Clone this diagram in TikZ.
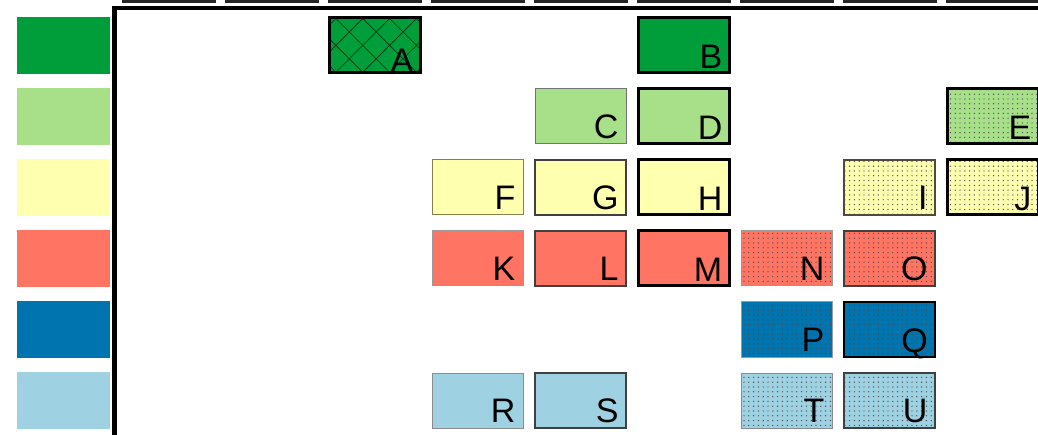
\documentclass[tikz,border=0pt]{standalone}
\usepackage{fontspec}
\setmainfont{Liberation Sans}
\usepackage{xcolor}
\usetikzlibrary{patterns.meta}
\definecolor{gDark}{HTML}{009E3A}
\definecolor{gLight}{HTML}{A8E08A}
\definecolor{yLight}{HTML}{FFFFB0}
\definecolor{salmon}{HTML}{FF7462}
\definecolor{bDark}{HTML}{0074AF}
\definecolor{bLight}{HTML}{9ED1E1}
\tikzset{
  cell/.style     ={rectangle,minimum width=91pt,minimum height=55pt,inner sep=0pt},
  key/.style      ={cell,minimum width=93pt,minimum height=57pt},
  c1/.style       ={preaction={fill=gDark}},
  c2/.style       ={preaction={fill=gLight}},
  c3/.style       ={preaction={fill=yLight}},
  c4/.style       ={preaction={fill=salmon}},
  c5/.style       ={preaction={fill=bDark}},
  c6/.style       ={preaction={fill=bLight}},
  lightedge/.style={draw=black!40,line width=1pt},
  midedge/.style  ={draw=black!75,line width=1.3pt},
  boldedge/.style ={draw=black,line width=3pt},
  topedge/.style  ={draw=black!85,line width=3pt,fill=white},
  dotty/.style    ={pattern={Dots[distance=4.8pt,radius=0.7pt]},pattern color=black!70},
  xhatch/.style   ={pattern={Hatch[angle=45,distance=19pt,line width=0.8pt]},pattern color=gDark!40!black},
  lbl/.style      ={font=\fontsize{34}{34}\selectfont,inner sep=0pt,anchor=base east,xshift=-8pt,yshift=6pt},
}
\begin{document}
\begin{tikzpicture}[x=1pt,y=-1pt]
  \useasboundingbox (0,0) rectangle (1038,435);
  \foreach \i in {0,...,8}{\node[cell,topedge](top\i) at (168.5+103*\i,-25.5){};}
  \node[key,c1](k1) at (63.5,45.5){};   \node[key,c2](k2) at (63.5,116.5){};
  \node[key,c3](k3) at (63.5,187.5){};  \node[key,c4](k4) at (63.5,258.5){};
  \node[key,c5](k5) at (63.5,329.5){};  \node[key,c6](k6) at (63.5,400.5){};
  \draw[line width=4.5pt](114.5,445)|-(1045,8);
  \node[cell,c1,xhatch,boldedge,label={[lbl,yshift=-4pt]south east:A}](A) at (374.5,45.5){};
  \node[cell,c1,boldedge,label={[lbl]south east:B}](B) at (683.5,45.5){};
  \node[cell,c2,lightedge,draw=black!55,label={[lbl]south east:C}](C) at (580.5,116.5){};
  \node[cell,c2,boldedge,label={[lbl]south east:D}](D) at (683.5,116.5){};
  \node[cell,c2,dotty,boldedge,label={[lbl]south east:E}](E) at (992.5,116.5){};
  \node[cell,c3,lightedge,draw=black!35!yellow!70!black,label={[lbl]south east:F}](F) at (477.5,187.5){};
  \node[cell,c3,midedge,label={[lbl]south east:G}](G) at (580.5,187.5){};
  \node[cell,c3,boldedge,label={[lbl]south east:H}](H) at (683.5,187.5){};
  \node[cell,c3,dotty,midedge,draw=black!60!yellow!50!black,label={[lbl]south east:I}](I) at (889.5,187.5){};
  \node[cell,c3,dotty,boldedge,label={[lbl]south east:J}](J) at (992.5,187.5){};
  \node[cell,c4,lightedge,label={[lbl]south east:K}](K) at (477.5,258.5){};
  \node[cell,c4,midedge,label={[lbl]south east:L}](L) at (580.5,258.5){};
  \node[cell,c4,boldedge,label={[lbl]south east:M}](M) at (683.5,258.5){};
  \node[cell,c4,dotty,lightedge,label={[lbl]south east:N}](N) at (786.5,258.5){};
  \node[cell,c4,dotty,midedge,label={[lbl]south east:O}](O) at (889.5,258.5){};
  \node[cell,c5,dotty,lightedge,label={[lbl]south east:P}](P) at (786.5,329.5){};
  \node[cell,c5,dotty,boldedge,line width=2.2pt,label={[lbl]south east:Q}](Q) at (889.5,329.5){};
  \node[cell,c6,lightedge,draw=black!45,label={[lbl]south east:R}](R) at (477.5,400.5){};
  \node[cell,c6,midedge,label={[lbl]south east:S}](S) at (580.5,400.5){};
  \node[cell,c6,dotty,lightedge,draw=black!45,label={[lbl]south east:T}](T) at (786.5,400.5){};
  \node[cell,c6,dotty,midedge,label={[lbl]south east:U}](U) at (889.5,400.5){};
\end{tikzpicture}
\end{document}
